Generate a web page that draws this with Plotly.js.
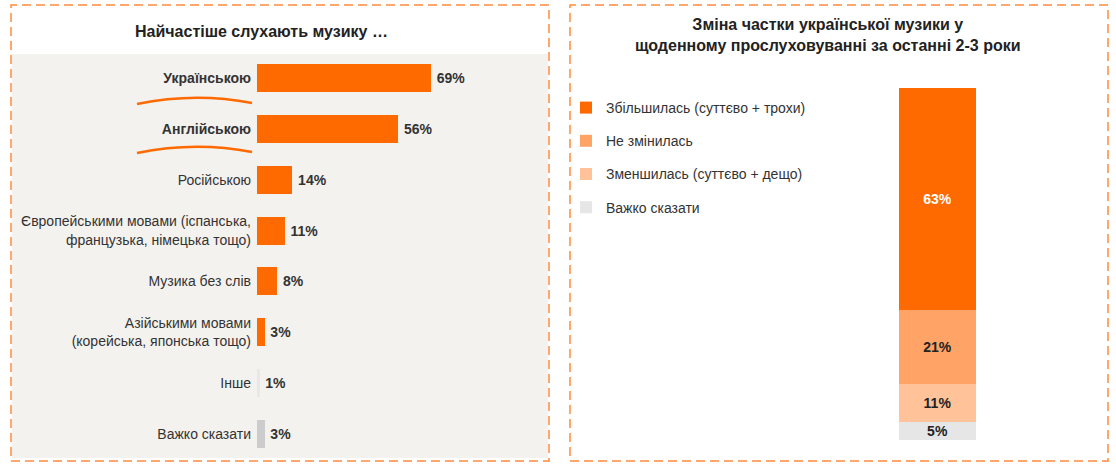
<!DOCTYPE html>
<html><head><meta charset="utf-8">
<script src="https://cdn.plot.ly/plotly-3.0.1.min.js"></script>
<style>html,body{margin:0;padding:0;background:#fff}#chart{width:1116px;height:467px}</style>
</head><body><div id="chart"></div>
<script>
// ---- data: left chart ----
const langCategories = ['Українською','Англійською','Російською','Європейськими мовами','Музика без слів','Азійськими мовами','Інше','Важко сказати'];
const langTickLabels = ['<b>Українською</b>','<b>Англійською</b>','Російською','Європейськими мовами (іспанська,<br>французька, німецька тощо)','Музика без слів','Азійськими мовами<br>(корейська, японська тощо)','Інше','Важко сказати'];
const langValues = [69, 56, 14, 11, 8, 3, 1, 3];
const langColors = ['#ff6a00','#ff6a00','#ff6a00','#ff6a00','#ff6a00','#ff6a00','#e8e8e8','#cccccc'];

// ---- data: right chart (bottom to top) ----
const changeCategory = ['Зміна'];
const changeSeries = ['Важко сказати','Зменшилась (суттєво + дещо)','Не змінилась','Збільшилась (суттєво + трохи)'];
const changeValues = [5, 11, 21, 63];
const changeColors = ['#e6e6e6','#ffc299','#ffa366','#ff6a00'];
const changeTextColors = ['#222','#222','#222','#ffffff'];

const W = 1116, H = 467;
const px = v => v / W;
const py = v => 1 - v / H;
const FONT = 'Liberation Sans, Arial, sans-serif';

const traces = [];
traces.push({
  type: 'bar', orientation: 'h',
  y: langCategories, x: langValues,
  marker: {color: langColors},
  width: 0.55,
  text: langValues.map(v => '\u2009' + v + '%'),
  textposition: 'outside',
  textfont: {family: FONT, size: 14, color: '#333', weight: 'bold'},
  cliponaxis: false,
  xaxis: 'x', yaxis: 'y',
  showlegend: false, hoverinfo: 'skip'
});
changeSeries.forEach((name, i) => {
  traces.push({
    type: 'bar',
    x: changeCategory, y: [changeValues[i]],
    name: name,
    legendgroup: 'g' + i,
    legendrank: changeSeries.length - i,
    marker: {color: changeColors[i]},
    width: 0.5,
    text: [changeValues[i] + '%'],
    textposition: 'inside',
    insidetextanchor: 'middle',
    constraintext: 'none',
    textfont: {family: FONT, size: 14, color: changeTextColors[i], weight: 'bold'},
    xaxis: 'x2', yaxis: 'y2', hoverinfo: 'skip'
  });
});

function curve(x0, y0, xm, ym, x1, y1) {
  return 'M' + px(x0) + ',' + py(y0) + ' Q' + px(xm) + ',' + py(ym) + ' ' + px(x1) + ',' + py(y1);
}

const layout = {
  width: W, height: H,
  margin: {l: 0, r: 0, t: 0, b: 0},
  paper_bgcolor: '#ffffff', plot_bgcolor: 'rgba(0,0,0,0)',
  font: {family: FONT, size: 14, color: '#333'},
  barmode: 'stack',
  xaxis: {domain: [px(257), px(509)], range: [0, 100], visible: false, fixedrange: true},
  yaxis: {domain: [py(459.5), py(52.5)], type: 'category', range: [7.5, -0.5],
          tickvals: langCategories, ticktext: langTickLabels, showgrid: false, zeroline: false,
          showline: false, ticks: '', ticklabelstandoff: 5,
          tickfont: {family: FONT, size: 14, color: '#333'}},
  xaxis2: {domain: [px(860), px(1015)], anchor: 'y2', visible: false, fixedrange: true},
  yaxis2: {domain: [py(440), py(88)], anchor: 'x2', range: [0, 100], visible: false},
  showlegend: true,
  legend: {x: px(566), y: py(92), xanchor: 'left', yanchor: 'top',
           traceorder: 'grouped', tracegroupgap: 12,
           font: {family: FONT, size: 14, color: '#333'}, bgcolor: 'rgba(0,0,0,0)',
           itemwidth: 30},
  shapes: [
    {type: 'rect', xref: 'paper', yref: 'paper', x0: px(12), x1: px(548), y0: py(458), y1: py(54),
     fillcolor: '#f4f2ef', line: {width: 0}, layer: 'below'},
    {type: 'rect', xref: 'paper', yref: 'paper', x0: px(11), x1: px(549), y0: py(461), y1: py(5),
     line: {color: '#ff8a3d', width: 1.5, dash: '9px,5px'}, fillcolor: 'rgba(0,0,0,0)'},
    {type: 'rect', xref: 'paper', yref: 'paper', x0: px(570), x1: px(1108), y0: py(461), y1: py(5),
     line: {color: '#ff8a3d', width: 1.5, dash: '9px,5px'}, fillcolor: 'rgba(0,0,0,0)'},
    {type: 'path', xref: 'paper', yref: 'paper', path: curve(137, 104, 195, 92, 252, 103),
     line: {color: '#ff6a00', width: 2.5}},
    {type: 'path', xref: 'paper', yref: 'paper', path: curve(137, 153, 195, 141, 252, 152),
     line: {color: '#ff6a00', width: 2.5}}
  ],
  annotations: [
    {xref: 'paper', yref: 'paper', x: px(261), y: py(32), xanchor: 'center', yanchor: 'middle',
     text: '<b>Найчастіше слухають музику …</b>', showarrow: false,
     font: {family: FONT, size: 16, color: '#222'}},
    {xref: 'paper', yref: 'paper', x: px(828), y: py(35), xanchor: 'center', yanchor: 'middle',
     text: '<b>Зміна частки української музики у<br>щоденному прослуховуванні за останні 2-3 роки</b>',
     showarrow: false, font: {family: FONT, size: 16, color: '#222'}}
  ]
};

Plotly.newPlot('chart', traces, layout, {displayModeBar: false, staticPlot: true});
</script>
</body></html>
